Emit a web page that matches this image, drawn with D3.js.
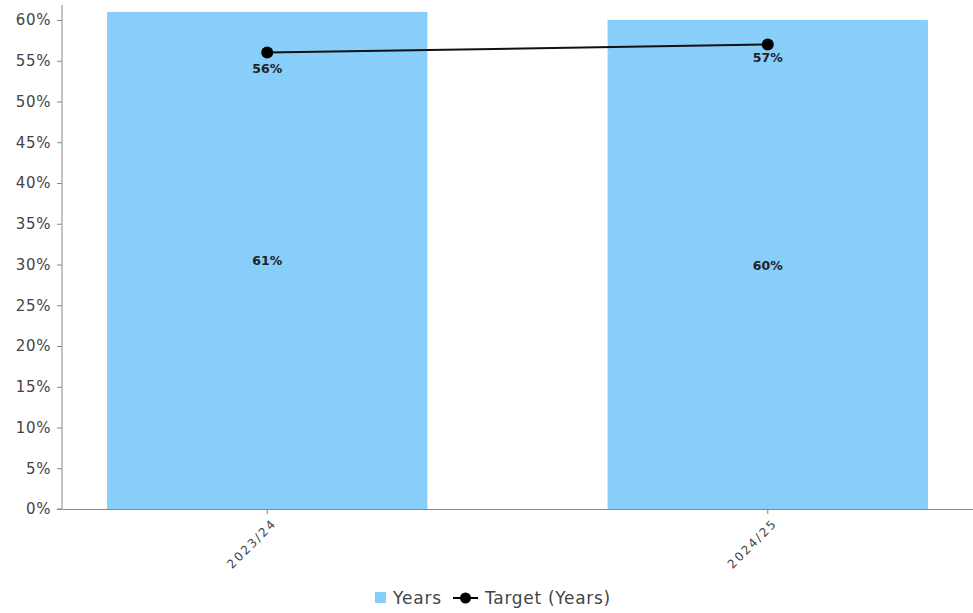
<!DOCTYPE html>
<html><head><meta charset="utf-8">
<script src="https://cdn.jsdelivr.net/npm/d3@7"></script>
<style>body{margin:0;background:#fff;}svg{display:block;font-family:"DejaVu Sans",sans-serif;}</style>
</head><body><svg id="c" width="973" height="613"></svg>
<script>
const categories = ["2023/24", "2024/25"];
const yearsValues = [61, 60];
const targetValues = [56, 57];
const yTicks = [0,5,10,15,20,25,30,35,40,45,50,55,60];
const seriesNames = ["Years", "Target (Years)"];

const svg = d3.select("#c");
const x0 = 62, x1 = 973, yBase = 509, yTop = 20;
const x = d3.scaleBand().domain(categories).range([x0, x1]).paddingInner(0.36).paddingOuter(0.09);
const y = d3.scaleLinear().domain([0, 60]).range([yBase, yTop]);

// bars
svg.selectAll("rect.bar").data(yearsValues).join("rect")
  .attr("x", (d,i)=>x(categories[i])).attr("width", x.bandwidth())
  .attr("y", d=>y(d)).attr("height", d=>yBase - y(d)).attr("fill", "#87cefa");

// y axis
const yAxis = svg.append("g").attr("transform", `translate(${x0},0)`)
  .call(d3.axisLeft(y).tickValues(yTicks).tickFormat(d=>d+"%").tickSize(5).tickPadding(6));
yAxis.attr("font-family", null).attr("font-size", null);
yAxis.select(".domain").attr("stroke", "#888").attr("d", `M-5,${yBase}H0V5`);
yAxis.selectAll(".tick line").attr("stroke", "#888");
yAxis.selectAll(".tick text").attr("fill", "#444").style("font-size", "15px").style("letter-spacing", "0.6px");

// x axis
const xAxis = svg.append("g").attr("transform", `translate(0,${yBase})`)
  .call(d3.axisBottom(x).tickSize(5).tickSizeOuter(0));
xAxis.attr("font-family", null).attr("font-size", null);
xAxis.select(".domain").attr("stroke", "#888");
xAxis.selectAll(".tick line").attr("stroke", "#888");
xAxis.selectAll(".tick text").attr("fill", "#444").style("font-size", "12px").style("letter-spacing", "2px")
  .attr("text-anchor", "end").attr("dy", null).attr("y", 0)
  .attr("transform", "translate(10,15) rotate(-45)");

// bar labels
svg.selectAll("text.blab").data(yearsValues).join("text")
  .attr("x", (d,i)=>x(categories[i]) + x.bandwidth()/2)
  .attr("y", d=>(y(d)+yBase)/2 + 5)
  .attr("text-anchor", "middle").style("font-size", "12.5px").style("font-weight", "bold")
  .attr("fill", "#222").text(d=>d+"%");

// target line
const cx = (d,i)=>x(categories[i]) + x.bandwidth()/2;
svg.append("path").datum(targetValues)
  .attr("d", d3.line().x((d,i)=>cx(d,i)).y(d=>y(d)))
  .attr("fill", "none").attr("stroke", "#111").attr("stroke-width", 2);
svg.selectAll("circle.pt").data(targetValues).join("circle")
  .attr("cx", cx).attr("cy", d=>y(d)).attr("r", 6).attr("fill", "#000");
svg.selectAll("text.tlab").data(targetValues).join("text")
  .attr("x", cx).attr("y", (d,i)=>y(d) + (i===0 ? 20 : 18))
  .attr("text-anchor", "middle").style("font-size", "12.5px").style("font-weight", "bold")
  .attr("fill", "#222").text(d=>d+"%");

// legend
const lg = svg.append("g");
lg.append("rect").attr("x", 375).attr("y", 592).attr("width", 11).attr("height", 11).attr("fill", "#87cefa");
lg.append("text").attr("x", 393).attr("y", 604).style("font-size", "17px").style("letter-spacing", "0.8px").attr("fill", "#444").text(seriesNames[0]);
lg.append("line").attr("x1", 453).attr("x2", 478).attr("y1", 598).attr("y2", 598).attr("stroke", "#000").attr("stroke-width", 2);
lg.append("circle").attr("cx", 465.5).attr("cy", 598).attr("r", 5.5).attr("fill", "#000");
lg.append("text").attr("x", 485).attr("y", 604).style("font-size", "17px").style("letter-spacing", "0.7px").attr("fill", "#444").text(seriesNames[1]);
</script></body></html>
